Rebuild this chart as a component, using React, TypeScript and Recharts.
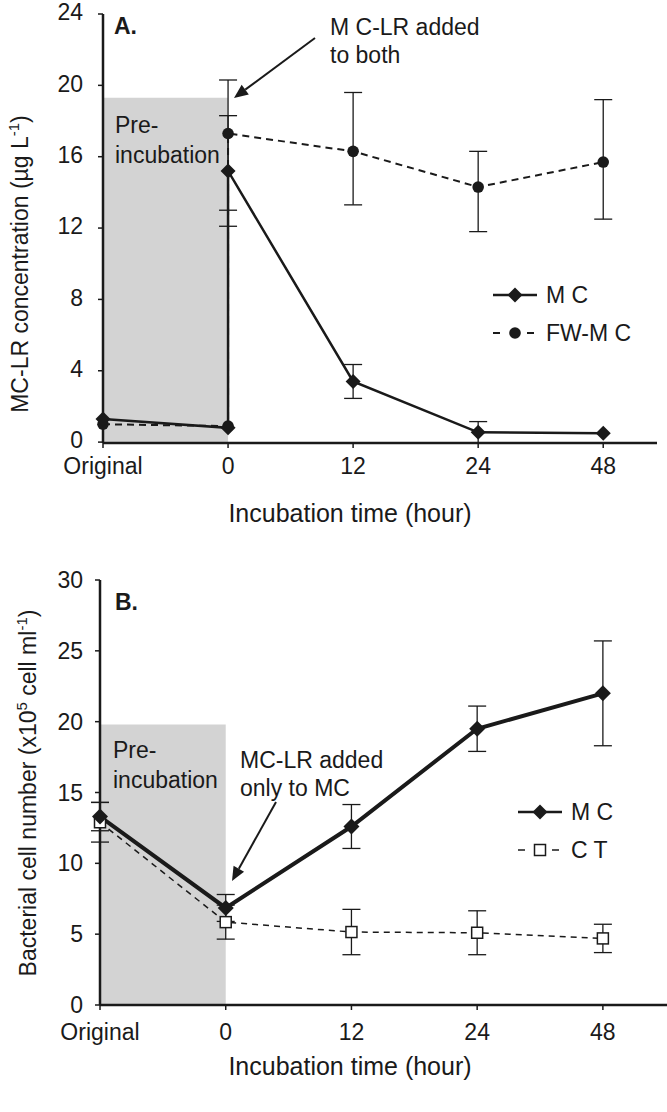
import { LineChart, Line, XAxis, YAxis, ErrorBar, ReferenceArea } from "recharts";

const xLabels = ["Original", "0", "12", "24", "48"];

// panel A: MC-LR concentration (µg/L); x index 1 appears twice (before / after the spike)
const mcAX = [0, 1, 1, 2, 3, 4];
const mcAY = [1.3, 0.8, 15.2, 3.4, 0.55, 0.5];
const mcAErr = [null, null, 3.1, 0.95, 0.6, null];

const fwAX = [0, 1, 1, 2, 3, 4];
const fwAY = [1.0, 0.9, 17.3, 16.3, 14.3, 15.7];
const fwAErr = [null, null, [4.3, 3.0], [3.0, 3.3], [2.5, 2.0], [3.2, 3.5]];

const yTicksA = [0, 4, 8, 12, 16, 20, 24];
const preTopA = 19.3;

// panel B: bacterial cell number (x10^5 cell/ml)
const mcBY = [13.3, 6.85, 12.6, 19.5, 22.0];
const mcBErr = [1.0, 0.95, 1.55, 1.6, 3.7];
const ctBY = [12.9, 5.85, 5.15, 5.1, 4.7];
const ctBErr = [1.4, 1.2, 1.6, 1.55, 1.0];

const yTicksB = [0, 5, 10, 15, 20, 25, 30];
const preTopB = 19.8;

const font = "'Liberation Sans', Arial, sans-serif";
const ink = "#1a1a1a";

const toRows = (xs: number[], ys: number[], errs: any[]) =>
  xs.map((x, i) => ({ x, y: ys[i], err: errs[i] }));

const mcAData = toRows(mcAX, mcAY, mcAErr);
const fwAData = toRows(fwAX, fwAY, fwAErr);
const mcBData = toRows([0, 1, 2, 3, 4], mcBY, mcBErr);
const ctBData = toRows([0, 1, 2, 3, 4], ctBY, ctBErr);

function Diamond(props: any) {
  const { cx, cy, index, size = 7.5 } = props;
  if (cx == null || cy == null) return null;
  const r = size;
  return (
    <polygon
      key={`d-${index}`}
      points={`${cx},${cy - r} ${cx + r},${cy} ${cx},${cy + r} ${cx - r},${cy}`}
      fill={ink}
    />
  );
}

function Dot(props: any) {
  const { cx, cy, index } = props;
  if (cx == null || cy == null) return null;
  return <circle key={`c-${index}`} cx={cx} cy={cy} r={5.8} fill={ink} />;
}

function OpenSquare(props: any) {
  const { cx, cy, index } = props;
  if (cx == null || cy == null) return null;
  return (
    <rect key={`s-${index}`} x={cx - 5.5} y={cy - 5.5} width={11} height={11} fill="#fff" stroke={ink} strokeWidth={1.5} />
  );
}

function PreLabel(props: any) {
  const { viewBox, dx = 12, dy = 35 } = props;
  if (!viewBox) return null;
  return (
    <g>
      <text x={viewBox.x + dx} y={viewBox.y + dy} fontSize={23} fill={ink} fontFamily={font}>Pre-</text>
      <text x={viewBox.x + dx} y={viewBox.y + dy + 30} fontSize={23} fill={ink} fontFamily={font}>incubation</text>
    </g>
  );
}

function LegendRow({ x, y, dash, width, marker, label }: any) {
  return (
    <g>
      <line x1={x} y1={y} x2={x + 44} y2={y} stroke={ink} strokeWidth={width} strokeDasharray={dash} />
      {marker(x + 22, y)}
      <text x={x + 53} y={y + 8} fontSize={23} fill={ink} fontFamily={font}>
        {label}
      </text>
    </g>
  );
}

function Arrow({ x1, y1, x2, y2 }: any) {
  const a = Math.atan2(y2 - y1, x2 - x1);
  const len = 14;
  const w = 6;
  const bx = x2 - len * Math.cos(a);
  const by = y2 - len * Math.sin(a);
  const px = -Math.sin(a) * w;
  const py = Math.cos(a) * w;
  return (
    <g>
      <line x1={x1} y1={y1} x2={bx} y2={by} stroke={ink} strokeWidth={2} />
      <polygon points={`${x2},${y2} ${bx + px},${by + py} ${bx - px},${by - py}`} fill={ink} />
    </g>
  );
}

const tickStyle = { fontSize: 23, fill: ink, fontFamily: font };
const axisLine = { stroke: ink, strokeWidth: 2.5 };
const tickLine = { stroke: ink, strokeWidth: 1.5 };

function PanelA() {
  return (
    <LineChart width={667} height={545} margin={{ top: 14, right: 10, left: 0, bottom: 0 }}>
      <XAxis
        dataKey="x"
        type="number"
        domain={[0, 4.43]}
        ticks={[0, 1, 2, 3, 4]}
        tickFormatter={(v) => xLabels[v]}
        allowDuplicatedCategory={false}
        height={102}
        tick={tickStyle}
        tickSize={5}
        tickMargin={10}
        axisLine={axisLine}
        tickLine={tickLine}
      />
      <YAxis
        type="number"
        domain={[0, 24]}
        ticks={yTicksA}
        width={103}
        tick={{ ...tickStyle, dy: -2 }}
        tickSize={5}
        tickMargin={15}
        axisLine={axisLine}
        tickLine={tickLine}
      />
      <ReferenceArea
        x1={0}
        x2={1}
        y1={0}
        y2={preTopA}
        fill="#d3d3d3"
        fillOpacity={1}
        stroke="none"
        label={<PreLabel dx={12} dy={35} />}
      />
      <Line
        data={fwAData}
        dataKey="y"
        stroke={ink}
        strokeWidth={2}
        strokeDasharray="7 5"
        dot={<Dot />}
        isAnimationActive={false}
      >
        <ErrorBar dataKey="err" width={9} stroke={ink} strokeWidth={1.3} direction="y" />
      </Line>
      <Line
        data={mcAData}
        dataKey="y"
        stroke={ink}
        strokeWidth={2.5}
        dot={<Diamond size={7.5} />}
        isAnimationActive={false}
      >
        <ErrorBar dataKey="err" width={9} stroke={ink} strokeWidth={1.3} direction="y" />
      </Line>
      <text x={114} y={34} fontSize={23} fontWeight="bold" fill={ink} fontFamily={font}>A.</text>
      <text x={330} y={35} fontSize={23} fill={ink} fontFamily={font}>M C-LR added</text>
      <text x={330} y={63} fontSize={23} fill={ink} fontFamily={font}>to both</text>
      <Arrow x1={315} y1={38} x2={234} y2={98} />
      <LegendRow x={493} y={295} width={2.5} marker={(cx: number, cy: number) => <Diamond cx={cx} cy={cy} index={0} size={7.5} />} label="M C" />
      <LegendRow x={493} y={333} width={2} dash="7 10" marker={(cx: number, cy: number) => <Dot cx={cx} cy={cy} index={0} />} label="FW-M C" />
      <text
        transform="translate(28, 264) rotate(-90)"
        textAnchor="middle"
        fontSize={23}
        fill={ink}
        fontFamily={font}
      >
        MC-LR concentration (µg L<tspan dy={-9} fontSize={15}>-1</tspan><tspan dy={9}>)</tspan>
      </text>
      <text x={350} y={522} textAnchor="middle" fontSize={25} fill={ink} fontFamily={font}>
        Incubation time (hour)
      </text>
    </LineChart>
  );
}

function PanelB() {
  return (
    <LineChart width={667} height={562} margin={{ top: 30, right: 0, left: 0, bottom: 0 }}>
      <XAxis
        dataKey="x"
        type="number"
        domain={[0, 4.51]}
        ticks={[0, 1, 2, 3, 4]}
        tickFormatter={(v) => xLabels[v]}
        allowDuplicatedCategory={false}
        height={107}
        tick={tickStyle}
        tickSize={5}
        tickMargin={14}
        axisLine={axisLine}
        tickLine={tickLine}
      />
      <YAxis
        type="number"
        domain={[0, 30]}
        ticks={yTicksB}
        width={100}
        tick={tickStyle}
        tickSize={5}
        tickMargin={12}
        axisLine={axisLine}
        tickLine={tickLine}
      />
      <ReferenceArea
        x1={0}
        x2={1}
        y1={0}
        y2={preTopB}
        fill="#d3d3d3"
        fillOpacity={1}
        stroke="none"
        label={<PreLabel dx={13} dy={33} />}
      />
      <Line
        data={ctBData}
        dataKey="y"
        stroke={ink}
        strokeWidth={1.5}
        strokeDasharray="6 5"
        dot={<OpenSquare />}
        isAnimationActive={false}
      >
        <ErrorBar dataKey="err" width={9} stroke={ink} strokeWidth={1.3} direction="y" />
      </Line>
      <Line
        data={mcBData}
        dataKey="y"
        stroke={ink}
        strokeWidth={4}
        dot={<Diamond size={8} />}
        isAnimationActive={false}
      >
        <ErrorBar dataKey="err" width={9} stroke={ink} strokeWidth={1.3} direction="y" />
      </Line>
      <text x={115} y={60} fontSize={23} fontWeight="bold" fill={ink} fontFamily={font}>B.</text>
      <text x={240} y={218} fontSize={23} fill={ink} fontFamily={font}>MC-LR added</text>
      <text x={240} y={246} fontSize={23} fill={ink} fontFamily={font}>only to MC</text>
      <Arrow x1={276} y1={252} x2={232} y2={331} />
      <LegendRow x={518} y={262} width={2.5} marker={(cx: number, cy: number) => <Diamond cx={cx} cy={cy} index={0} size={7.5} />} label="M C" />
      <LegendRow x={518} y={300} width={1.5} dash="7 10" marker={(cx: number, cy: number) => <OpenSquare cx={cx} cy={cy} index={0} />} label="C T" />
      <text
        transform="translate(36, 243) rotate(-90)"
        textAnchor="middle"
        fontSize={23}
        fill={ink}
        fontFamily={font}
      >
        Bacterial cell number (x10<tspan dy={-9} fontSize={15}>5</tspan>
        <tspan dy={9}> cell ml</tspan>
        <tspan dy={-9} fontSize={15}>-1</tspan>
        <tspan dy={9}>)</tspan>
      </text>
      <text x={350} y={525} textAnchor="middle" fontSize={25} fill={ink} fontFamily={font}>
        Incubation time (hour)
      </text>
    </LineChart>
  );
}

export default function App() {
  return (
    <div style={{ position: "absolute", left: 0, top: 0, width: 667, height: 1112, background: "#fff" }}>
      <div style={{ position: "absolute", left: 0, top: 0 }}>
        <PanelA />
      </div>
      <div style={{ position: "absolute", left: 0, top: 550 }}>
        <PanelB />
      </div>
    </div>
  );
}
